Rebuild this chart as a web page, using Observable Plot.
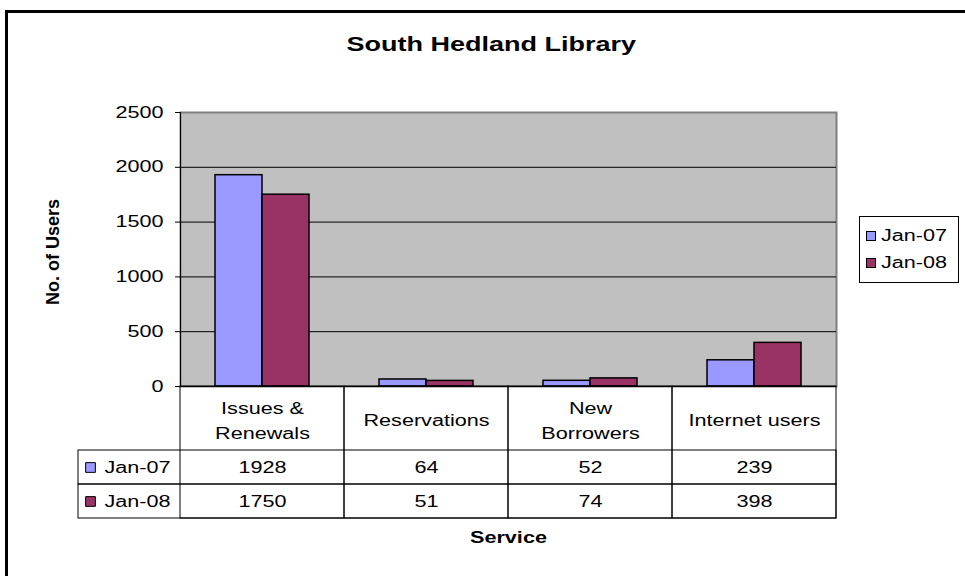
<!DOCTYPE html>
<html>
<head>
<meta charset="utf-8">
<script src="https://cdn.jsdelivr.net/npm/d3@7"></script>
<script src="https://cdn.jsdelivr.net/npm/@observablehq/plot@0.6"></script>
<style>
html, body { margin: 0; padding: 0; background: #fff; overflow: hidden; }
#root { position: relative; width: 965px; height: 576px; overflow: hidden; background: #fff;
  font-family: Arial, "Liberation Sans", sans-serif; color: #000; }
#root svg { position: absolute; left: 0; top: 0; }
.outer { position: absolute; left: 5px; top: 10px; width: 1200px; height: 1200px; border: 3px solid #000; box-sizing: border-box; }
.lbl { position: absolute; text-align: center; white-space: nowrap; }
.sx { display: inline-block; transform: scaleX(1.35); transform-origin: center; }
.legend { position: absolute; left: 859px; top: 216px; width: 100px; height: 67px; border: 1px solid #000; box-sizing: border-box; background: #fff; }
.legend .item { position: absolute; left: 6px; height: 20px; line-height: 20px; font-size: 16px; white-space: nowrap; }
.legend .sw { position: absolute; left: 0; top: 5px; width: 8px; height: 8px; border: 1px solid #000; }
.legend .tx { position: absolute; left: 15px; top: 0; display: inline-block; transform: scaleX(1.35); transform-origin: left center; }
</style>
</head>
<body>
<div id="root">
  <div class="outer"></div>
</div>
<script>
// ---- data ----
const categories = ["Issues & Renewals", "Reservations", "New Borrowers", "Internet users"];
const categoryLabels = ["Issues &\nRenewals", "Reservations", "New\nBorrowers", "Internet users"];
const series = ["Jan-07", "Jan-08"];
const jan07 = [1928, 64, 52, 239];
const jan08 = [1750, 51, 74, 398];
const colors = ["#9999ff", "#993366"];
const yTicks = [0, 500, 1000, 1500, 2000, 2500];
const titleText = "South Hedland Library";
const xTitle = "Service";
const yTitle = "No. of Users";

const values = [jan07, jan08];
const tableData = series.flatMap((s, i) => categories.map((c, j) => ({category: c, series: s, value: values[i][j]})));

// ---- layout ----
const W = 965, H = 576;
const ML = 180, MR = 129, MT = 112, MB = 190;
const K = 1.35; // horizontal text stretch of the reference
const style = {background: "none", overflow: "visible", fontFamily: "Arial, 'Liberation Sans', sans-serif"};
const root = document.getElementById("root");

function stretch(svg, k) {
  svg.querySelectorAll("text").forEach(t => {
    const spans = t.querySelectorAll("tspan");
    const targets = spans.length ? Array.from(spans) : [t];
    targets.forEach(el => {
      const L = el.getComputedTextLength();
      if (L > 0) {
        el.setAttribute("textLength", (L * k).toFixed(2));
        el.setAttribute("lengthAdjust", "spacingAndGlyphs");
      }
    });
  });
}

// Layer A: plot area, grid, y axis
const bg = Plot.plot({
  width: W, height: H, marginLeft: ML, marginRight: MR, marginTop: MT, marginBottom: MB,
  style,
  x: {type: "band", domain: categories, axis: null},
  y: {domain: [0, 2500], axis: null},
  marks: [
    Plot.frame({fill: "#c0c0c0", stroke: "#808080", strokeWidth: 2}),
    Plot.ruleY(yTicks.filter(t => t < 2500), {stroke: "#000", strokeWidth: 1}),
    Plot.axisY(yTicks, {tickSize: 5, tickPadding: 12, fontSize: 16, label: null, stroke: "#000", fill: "#000", tickFormat: d => String(d)}),
    Plot.frame({anchor: "left", stroke: "#000"})
  ]
});
root.appendChild(bg);

// Layer B: grouped bars
const bars = Plot.plot({
  width: W, height: H, marginLeft: ML, marginRight: MR, marginTop: MT, marginBottom: MB,
  style,
  fx: {domain: categories, padding: 0, axis: null, label: null},
  x: {domain: series, paddingInner: 0, paddingOuter: 0.74, axis: null},
  y: {domain: [0, 2500], axis: null},
  color: {domain: series, range: colors},
  marks: [
    Plot.barY(tableData, {fx: "category", x: "series", y: "value", fill: "series", stroke: "#000", strokeWidth: 1.5})
  ]
});
root.appendChild(bars);

// Layer C: data table
const table = Plot.plot({
  width: W, height: H, marginLeft: ML, marginRight: MR, marginTop: 449, marginBottom: 58,
  style,
  x: {type: "band", domain: categories, padding: 0, axis: null},
  y: {type: "band", domain: series, padding: 0, axis: null},
  color: {domain: series, range: colors},
  marks: [
    Plot.cell(categories, {x: d => d, fill: "none", stroke: "#000", insetTop: -63}),
    Plot.cell(series, {y: d => d, fill: "none", stroke: "#000", insetLeft: -102}),
    Plot.text(categories, {x: d => d, text: (d, i) => categoryLabels[i], frameAnchor: "top", lineAnchor: "middle", dy: -31, fontSize: 16, lineHeight: 1.55, fill: "#000"}),
    Plot.text(tableData, {x: "category", y: "series", text: d => String(d.value), fontSize: 16, fill: "#000"}),
    Plot.dot(series, {y: d => d, frameAnchor: "left", dx: -90, symbol: "square", r: 5.5, fill: d => d, stroke: "#000", strokeWidth: 1}),
    Plot.text(series, {y: d => d, frameAnchor: "left", dx: -76, textAnchor: "start", fontSize: 16, fill: "#000"})
  ]
});
root.appendChild(table);

stretch(bg, K);
stretch(table, K);

// Titles (HTML text)
function addLabel(text, css, inner) {
  const d = document.createElement("div");
  d.className = "lbl";
  Object.assign(d.style, css);
  const s = document.createElement("span");
  s.className = "sx";
  s.textContent = text;
  if (inner) Object.assign(s.style, inner);
  d.appendChild(s);
  root.appendChild(d);
  return d;
}
addLabel(titleText, {left: "0px", width: "982px", top: "32px", fontSize: "20px", fontWeight: "bold", lineHeight: "24px"});
addLabel(xTitle, {left: "0px", width: "1016px", top: "526px", fontSize: "16px", fontWeight: "bold", lineHeight: "24px"});
addLabel(yTitle, {left: "-47px", width: "200px", top: "240px", height: "24px", fontSize: "18px", fontWeight: "bold", lineHeight: "24px", transform: "rotate(-90deg)", transformOrigin: "center"}, {transform: "none"});

// Legend
const leg = document.createElement("div");
leg.className = "legend";
series.forEach((s, i) => {
  const it = document.createElement("div");
  it.className = "item";
  it.style.top = (9 + i * 27) + "px";
  const sw = document.createElement("span");
  sw.className = "sw";
  sw.style.background = colors[i];
  const tx = document.createElement("span");
  tx.className = "tx";
  tx.textContent = s;
  it.appendChild(sw);
  it.appendChild(tx);
  leg.appendChild(it);
});
root.appendChild(leg);
</script>
</body>
</html>
